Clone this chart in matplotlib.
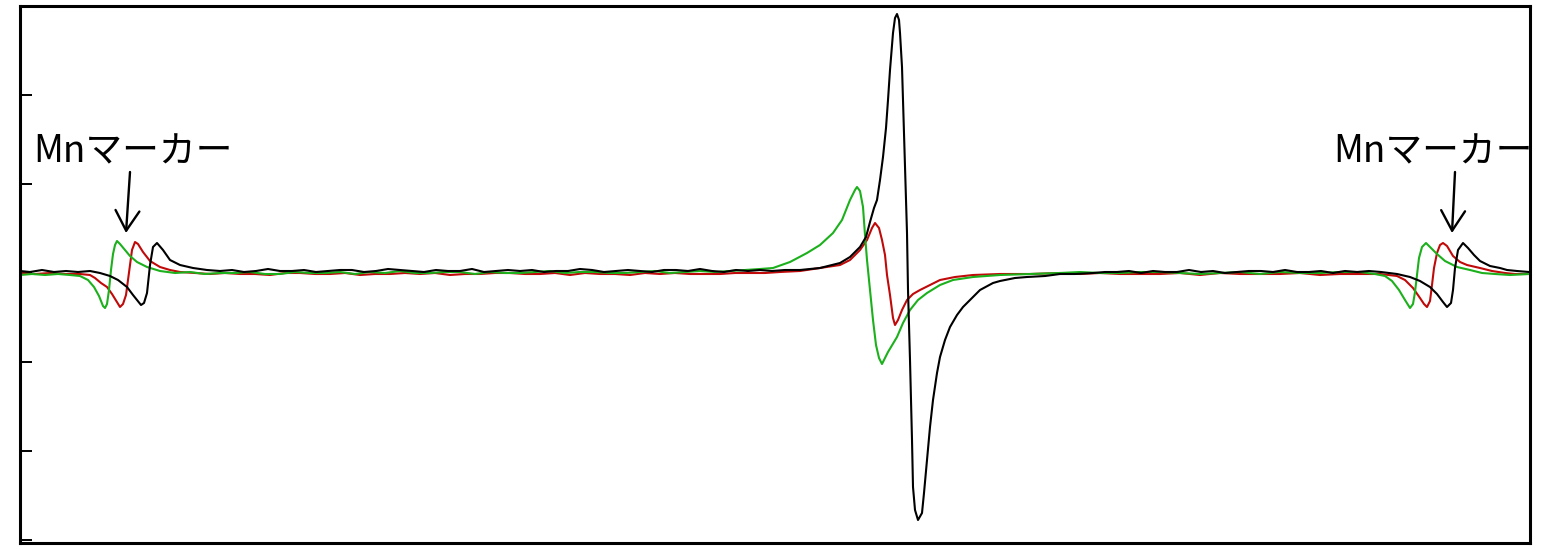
import numpy as np
import matplotlib.pyplot as plt
from matplotlib.ticker import MultipleLocator

plt.rcParams["font.family"] = ["Noto Sans CJK JP", "DejaVu Sans"]

# ESR spectra, three samples (field in arbitrary units, signal in arbitrary units)
green_x = [0, 12, 25, 38, 50, 60, 68, 74, 79, 83, 85, 87, 89, 91, 93, 95, 97, 100, 105, 110,
           117, 127, 140, 155, 170, 185, 200, 215, 230, 245, 260, 275, 290, 305, 320, 335, 350,
           365, 380, 395, 410, 425, 440, 455, 470, 485, 500, 515, 530, 545, 560, 575, 590, 605,
           620, 635, 650, 665, 680, 695, 710, 725, 740, 753, 770, 787, 800, 813, 822, 830, 835,
           837, 840, 843, 845, 847, 850, 853, 856, 859, 862, 868, 877, 883, 890, 898, 907, 920,
           933, 953, 980, 1010, 1040, 1060, 1080, 1100, 1120, 1140, 1160, 1180, 1200, 1220, 1240,
           1260, 1280, 1300, 1320, 1340, 1355, 1365, 1372, 1379, 1385, 1390, 1393, 1395, 1397,
           1399, 1402, 1406, 1410, 1417, 1425, 1437, 1450, 1462, 1475, 1490, 1509]
green_y = [-2, -1, -2, -1, -2, -3, -7, -14, -23, -33, -35, -31, -17, 3, 19, 28, 32, 29, 23, 17,
           11, 6, 2, 0, 1, -1, 0, 0, 1, -1, -1, 1, 0, 0, 1, -1, 1,
           0, 2, 0, 0, 1, 1, -1, 1, 0, 0, 1, 2, 0, 1, 1, 0, 0,
           1, 2, 0, 1, 2, 1, 2, 3, 4, 5, 11, 20, 28, 40, 53, 73, 83,
           86, 82, 66, 38, 13, -17, -47, -72, -85, -91, -79, -64, -50, -37, -27, -20, -12,
           -7, -4, -2, -1, 0, 1, 0, 0, 1, 1, 0, -1, 0, 1, -1,
           1, 0, 0, 1, 1, -1, -3, -8, -17, -27, -35, -31, -19, -2,
           15, 26, 30, 26, 19, 12, 6, 3, 0, -1, -2, -1]

red_x = [0, 15, 30, 45, 60, 70, 75, 81, 87, 92, 97, 100, 103, 106, 108, 110, 112, 115, 118, 123,
         130, 140, 150, 160, 175, 190, 205, 220, 235, 250, 265, 280, 295, 310, 325, 340, 355, 370,
         385, 400, 415, 430, 445, 460, 475, 490, 505, 520, 535, 550, 565, 580, 595, 610, 625, 640,
         655, 670, 685, 700, 715, 730, 745, 760, 780, 800, 820, 830, 840, 847, 852, 855, 859, 862,
         865, 867, 870, 873, 875, 878, 882, 887, 893, 900, 910, 920, 935, 953, 980, 1010, 1040,
         1060, 1080, 1100, 1120, 1140, 1160, 1180, 1200, 1220, 1240, 1260, 1280, 1300, 1320, 1340,
         1360, 1377, 1385, 1393, 1400, 1404, 1407, 1410, 1412, 1414, 1417, 1420, 1423, 1427, 1433,
         1440, 1447, 1460, 1472, 1485, 1495, 1509]
red_y = [0, -1, 0, -1, -1, -2, -5, -10, -14, -21, -29, -34, -31, -22, -7, 8, 23, 31, 29, 21,
         12, 6, 3, 1, 0, -1, 0, -1, -1, -2, 0, 0, -1, -1, 0, -2, -1, -1,
         0, -1, 0, -2, -1, -1, 0, 0, -1, -1, 0, -2, 0, -1, -1, -2, 0, -1,
         0, -1, -1, -1, 0, 0, 0, 1, 2, 5, 8, 13, 23, 33, 45, 50, 45, 33,
         18, -2, -22, -45, -52, -47, -37, -27, -21, -17, -12, -7, -4, -2, -1, -1, 0,
         -1, 0, -1, -1, -1, 0, -2, 0, -1, -1, -1, 0, -2, -1, -1,
         -1, -3, -7, -15, -25, -31, -34, -28, -12, 5, 20, 28, 30, 27, 17,
         11, 8, 5, 2, 0, -1, -1]

black_x = [0, 10, 22, 34, 46, 58, 70, 80, 90, 98, 107, 113, 117, 121, 124, 127, 130, 133, 137, 143,
           150, 160, 173, 187, 200, 212, 224, 236, 248, 260, 272, 284, 296, 308, 320, 332, 344,
           356, 368, 380, 392, 404, 416, 428, 440, 452, 464, 476, 488, 500, 512, 524, 536, 548,
           560, 572, 584, 596, 608, 620, 632, 644, 656, 668, 680, 692, 704, 716, 728, 740, 752,
           765, 780, 800, 820, 830, 840, 846, 850, 854, 857, 860, 863, 866, 868, 870, 873, 875,
           877, 879, 880, 882, 883, 885, 887, 888, 890, 891, 892, 893, 895, 898, 902, 904, 907,
           910, 913, 917, 920, 925, 930, 937, 943, 953, 960, 973, 980, 995, 1007, 1025, 1040,
           1055, 1073, 1085, 1097, 1109, 1121, 1133, 1145, 1157, 1169, 1181, 1193, 1205, 1217,
           1229, 1241, 1253, 1265, 1277, 1289, 1301, 1313, 1325, 1337, 1349, 1361, 1377, 1390,
           1400, 1410, 1417, 1423, 1427, 1431, 1433, 1435, 1438, 1443, 1448, 1454, 1460, 1470,
           1480, 1487, 1497, 1509]
black_y = [2, 1, 3, 1, 2, 1, 2, 0, -3, -7, -14, -22, -27, -32, -30, -20, 8, 26, 30, 23,
           13, 8, 5, 3, 2, 3, 1, 2, 4, 2, 2, 3, 1, 2, 3, 3, 1,
           2, 4, 3, 2, 1, 3, 2, 2, 4, 1, 2, 3, 2, 3, 1, 2, 2,
           4, 3, 1, 2, 3, 2, 1, 3, 3, 2, 4, 2, 1, 3, 2, 3, 2,
           3, 3, 5, 10, 16, 26, 36, 51, 65, 73, 93, 116, 145, 173, 203, 240, 255,
           259, 253, 240, 206, 173, 106, 40, -17, -87, -127, -167, -214, -237, -247, -240, -220, -187,
           -154, -127, -100, -84, -67, -54, -42, -34, -24, -17, -10, -8, -5, -4, -3, -1,
           -1, 0, 1, 1, 2, 0, 2, 1, 1, 3, 1, 2, 0, 1,
           2, 2, 1, 3, 1, 1, 2, 0, 2, 1, 2, 1, -1, -4,
           -8, -14, -21, -29, -34, -30, -17, 5, 23, 30, 25, 18, 12, 7,
           5, 3, 2, 1]

marker_label = "Mnマーカー"
marker_text_x = [13, 1313]
marker_arrow_tail_x = [110, 1435]
marker_arrow_tip_x = [106, 1432]

fig = plt.figure(figsize=(15.58, 5.5), dpi=100)
ax = fig.add_axes([0.01284, 0.01273, 0.96919, 0.97636])

ax.plot(red_x, red_y, color="#c00a0a", lw=1.5)
ax.plot(green_x, green_y, color="#1cb01c", lw=1.5)
ax.plot(black_x, black_y, color="black", lw=1.5)

for tx, ax0, ax1 in zip(marker_text_x, marker_arrow_tail_x, marker_arrow_tip_x):
    ax.text(tx, 121, marker_label, fontsize=26.5, ha="left", va="center")
    ax.annotate("", xy=(ax1, 40), xytext=(ax0, 101),
                arrowprops=dict(arrowstyle="->,head_length=0.72,head_width=0.43",
                                mutation_scale=20, lw=1.7, color="black",
                                shrinkA=0, shrinkB=0))

ax.set_xlim(0, 1510)
ax.set_ylim(-270, 267)
ax.yaxis.set_major_locator(MultipleLocator(89))
ax.set_xticks([])
ax.tick_params(axis="y", direction="in", length=8.5, width=1.4, labelleft=False)
for s in ax.spines.values():
    s.set_linewidth(2.2)

fig.savefig("out.png", dpi=100)
